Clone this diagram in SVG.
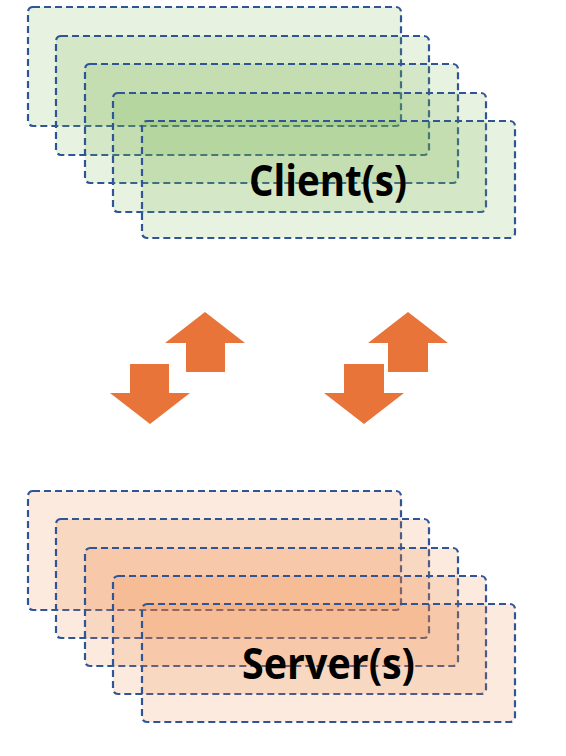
<svg xmlns="http://www.w3.org/2000/svg" width="566" height="756" viewBox="0 0 566 756">
<style>
.c{fill:#70ad47;fill-opacity:0.16;stroke:#2f5597;stroke-width:2.2;stroke-dasharray:7 4}
.s{fill:#ed7d31;fill-opacity:0.16;stroke:#2f5597;stroke-width:2.2;stroke-dasharray:7 4}
.a{fill:#e9743a}
.t{font-family:"Open Sans","Liberation Sans",sans-serif;font-weight:bold;font-size:43px;fill:#000}
</style>
<rect width="566" height="756" fill="#fff"/>
<g id="clients">
<rect class="c" x="28" y="7" width="373" height="119" rx="5"/>
<rect class="c" x="56" y="36" width="373" height="119" rx="5"/>
<rect class="c" x="85" y="64" width="373" height="119" rx="5"/>
<rect class="c" x="113" y="93" width="373" height="119" rx="5"/>
<rect class="c" x="142" y="121" width="373" height="117" rx="5"/>
<text class="t" x="249" y="196" textLength="158" lengthAdjust="spacingAndGlyphs">Client(s)</text>
</g>
<g id="servers">
<rect class="s" x="28" y="491" width="373" height="119" rx="5"/>
<rect class="s" x="56" y="519" width="373" height="119" rx="5"/>
<rect class="s" x="85" y="548" width="373" height="118" rx="5"/>
<rect class="s" x="113" y="576" width="373" height="118" rx="5"/>
<rect class="s" x="142" y="604" width="373" height="118" rx="5"/>
<text class="t" x="242" y="679" textLength="173" lengthAdjust="spacingAndGlyphs">Server(s)</text>
</g>
<g id="connectors">
<polygon class="a" points="130,364 169,364 169,393 190,393 150,424 110,393 130,393"/>
<polygon class="a" points="205,312 245,343 225,343 225,372 186,372 186,343 165,343"/>
<polygon class="a" points="344,364 384,364 384,393 404,393 364,424 324,393 344,393"/>
<polygon class="a" points="408,312 448,343 428,343 428,372 388,372 388,343 368,343"/>
</g>
</svg>
